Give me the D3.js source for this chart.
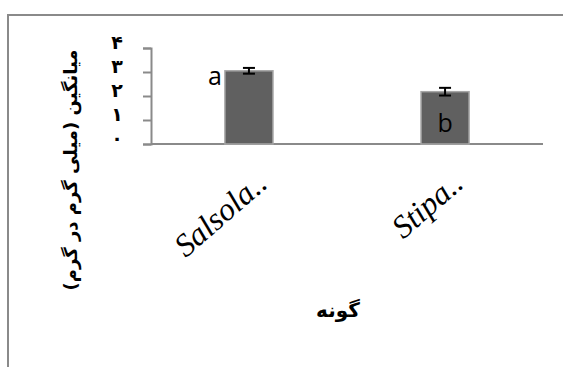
<!DOCTYPE html>
<html>
<head>
<meta charset="utf-8">
<script src="https://cdn.jsdelivr.net/npm/d3@7"></script>
<style>
  body { margin: 0; background: #fff; }
  svg { display: block; }
</style>
</head>
<body>
<svg id="chart" width="563" height="367"></svg>
<script>
const species = ['Salsola..', 'Stipa..'];
const means = [3.05, 2.18];
const errors = [0.12, 0.16];
const letters = ['a', 'b'];
const yTicks = [0, 1, 2, 3, 4];
const yTickLabels = ['۰', '۱', '۲', '۳', '۴'];

const svg = d3.select('#chart');

// outer frame (only top and left edges are visible)
svg.append('path')
    .attr('d', 'M8,367 V15 H563')
    .attr('fill', 'none')
    .attr('stroke', '#8a8a8a')
    .attr('stroke-width', 2);

const x = d3.scaleBand()
    .domain(species)
    .range([151, 543])
    .paddingInner(0.755)
    .paddingOuter(0.377);

const y = d3.scaleLinear()
    .domain([0, 4])
    .range([144, 48]);

// y axis
const yAxis = svg.append('g')
    .attr('transform', 'translate(151,0)')
    .call(d3.axisLeft(y).tickValues(yTicks).tickSize(8).tickFormat(''));
yAxis.selectAll('path, line')
    .attr('stroke', '#8a8a8a')
    .attr('stroke-width', 2);

svg.append('g')
  .selectAll('text')
  .data(yTicks)
  .join('text')
    .attr('x', 117)
    .attr('y', d => y(d) + 1)
    .attr('text-anchor', 'middle')
    .attr('font-family', '"DejaVu Sans", sans-serif')
    .attr('font-size', 19)
    .attr('font-weight', 'bold')
    .text((d, i) => yTickLabels[i]);

// x axis
svg.append('line')
    .attr('x1', 151).attr('x2', 543)
    .attr('y1', y(0)).attr('y2', y(0))
    .attr('stroke', '#8a8a8a')
    .attr('stroke-width', 2);

// bars
svg.append('g')
  .selectAll('rect')
  .data(species)
  .join('rect')
    .attr('x', d => x(d))
    .attr('y', (d, i) => y(means[i]))
    .attr('width', x.bandwidth())
    .attr('height', (d, i) => y(0) - y(means[i]))
    .attr('fill', '#606060')
    .attr('stroke', '#a6a6a6')
    .attr('stroke-width', 1.5);

// error bars
const err = svg.append('g')
    .attr('stroke', '#000')
    .attr('stroke-width', 2)
  .selectAll('g')
  .data(species)
  .join('g')
    .attr('transform', d => `translate(${x(d) + x.bandwidth() / 2},0)`);
err.append('line')
    .attr('y1', (d, i) => y(means[i] + errors[i]))
    .attr('y2', (d, i) => y(means[i] - errors[i]));
err.append('line')
    .attr('x1', -6).attr('x2', 6)
    .attr('y1', (d, i) => y(means[i] + errors[i]))
    .attr('y2', (d, i) => y(means[i] + errors[i]));
err.append('line')
    .attr('x1', -6).attr('x2', 6)
    .attr('y1', (d, i) => y(means[i] - errors[i]))
    .attr('y2', (d, i) => y(means[i] - errors[i]));

// significance letters
svg.append('text')
    .attr('x', x(species[0]) - 3)
    .attr('y', y(means[0]) + 14)
    .attr('text-anchor', 'end')
    .attr('font-family', '"Open Sans", sans-serif')
    .attr('font-size', 25)
    .text(letters[0]);
svg.append('text')
    .attr('x', x(species[1]) + x.bandwidth() / 2)
    .attr('y', y(means[1]) + 40)
    .attr('text-anchor', 'middle')
    .attr('font-family', '"Open Sans", sans-serif')
    .attr('font-size', 25)
    .text(letters[1]);

// category labels, rotated
svg.append('g')
  .selectAll('text')
  .data(species)
  .join('text')
    .attr('transform', d => `translate(${x(d) + x.bandwidth() / 2 + 20},186) rotate(-41)`)
    .attr('text-anchor', 'end')
    .attr('font-family', '"Liberation Serif", serif')
    .attr('font-style', 'italic')
    .attr('font-size', 32)
    .text(d => d);

// axis titles
svg.append('text')
    .attr('transform', 'translate(77,170) rotate(-90)')
    .attr('text-anchor', 'middle')
    .attr('direction', 'rtl')
    .attr('font-family', '"DejaVu Sans", sans-serif')
    .attr('font-weight', 'bold')
    .attr('font-size', 18)
    .text('میانگین (میلی گرم در گرم)');

svg.append('text')
    .attr('x', 338)
    .attr('y', 317)
    .attr('text-anchor', 'middle')
    .attr('direction', 'rtl')
    .attr('font-family', '"DejaVu Sans", sans-serif')
    .attr('font-weight', 'bold')
    .attr('font-size', 20)
    .text('گونه');
</script>
</body>
</html>
